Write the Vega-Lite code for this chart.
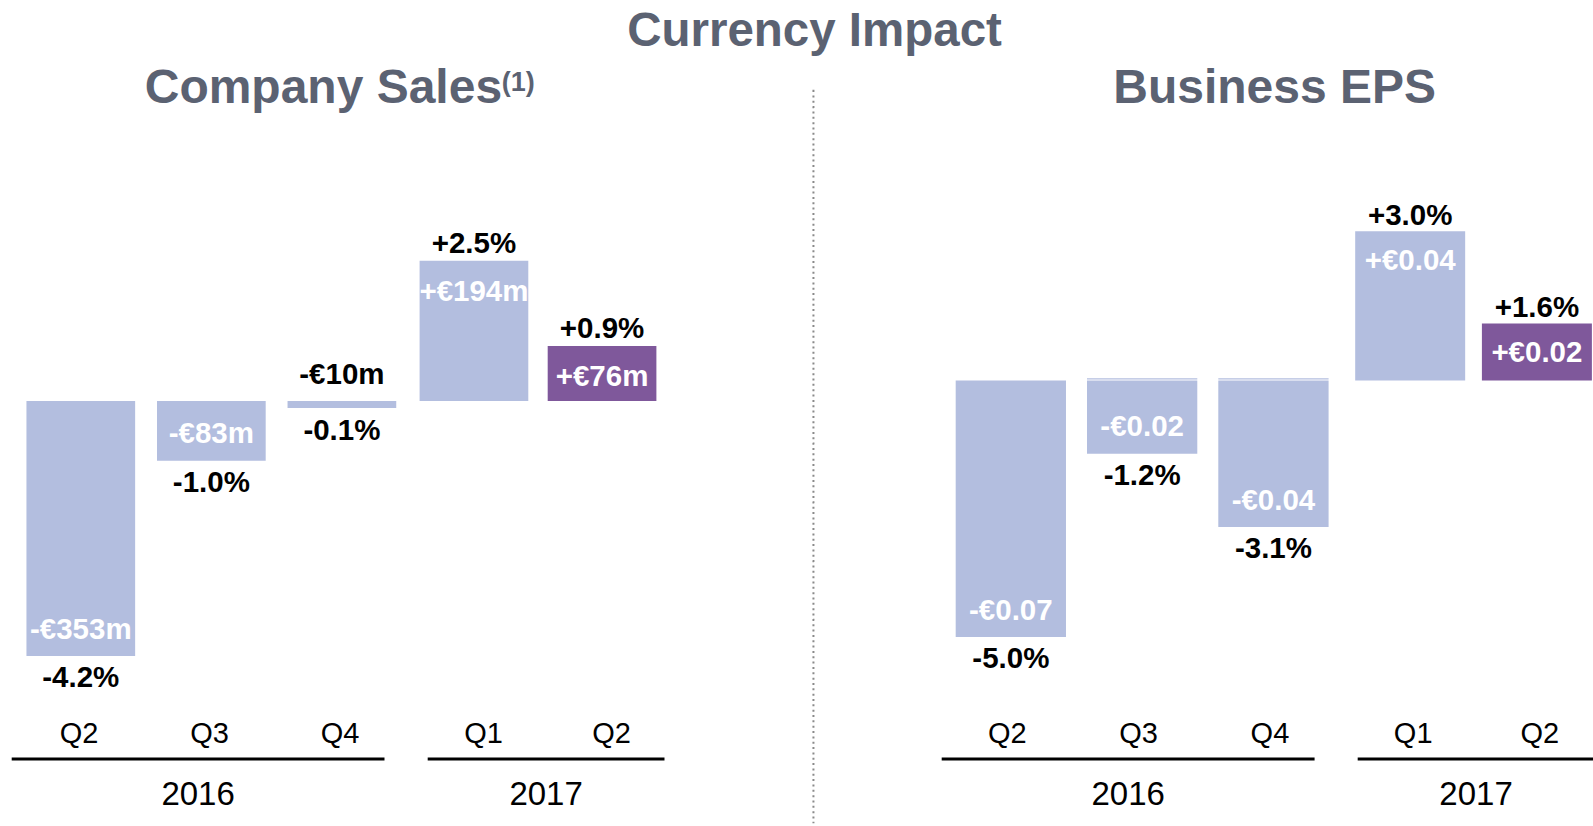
{
  "$schema": "https://vega.github.io/schema/vega-lite/v6.json",
  "padding": {"left": 11.2, "top": 7.6, "right": 0, "bottom": 0},
  "bounds": "flush",
  "spacing": 0,
  "title": {"text": "Currency Impact", "font": "Liberation Sans", "fontSize": 47.5, "fontWeight": "bold", "color": "#5b6272", "anchor": "middle", "dx": 12, "offset": 10},
  "datasets": {
    "sales": [
      {"year": "2016", "quarter": "Q2", "value": -353, "euro": "-€353m", "pct": "-4.2%"},
      {"year": "2016", "quarter": "Q3", "value": -83, "euro": "-€83m", "pct": "-1.0%"},
      {"year": "2016", "quarter": "Q4", "value": -10, "euro": "-€10m", "pct": "-0.1%"},
      {"year": "2017", "quarter": "Q1", "value": 194, "euro": "+€194m", "pct": "+2.5%"},
      {"year": "2017", "quarter": "Q2", "value": 76, "euro": "+€76m", "pct": "+0.9%"}
    ],
    "eps": [
      {"year": "2016", "quarter": "Q2", "value": -0.07, "euro": "-€0.07", "pct": "-5.0%"},
      {"year": "2016", "quarter": "Q3", "value": -0.02, "euro": "-€0.02", "pct": "-1.2%"},
      {"year": "2016", "quarter": "Q4", "value": -0.04, "euro": "-€0.04", "pct": "-3.1%"},
      {"year": "2017", "quarter": "Q1", "value": 0.0408, "euro": "+€0.04", "pct": "+3.0%"},
      {"year": "2017", "quarter": "Q2", "value": 0.0156, "euro": "+€0.02", "pct": "+1.6%"}
    ]
  },
  "hconcat": [
    {
      "width": 372.8, "height": 668,
      "title": {"text": "Company Sales", "font": "Liberation Sans", "fontSize": 48, "fontWeight": "bold", "color": "#5b6272", "anchor": "middle", "frame": "group", "dx": 125.8, "baseline": "alphabetic", "offset": -60.5},
      "data": {"name": "sales"},
      "transform": [{"filter": "datum.year === '2016'"}],
      "encoding": {
        "x": {"field": "quarter", "type": "nominal", "sort": null, "scale": {"paddingInner": 0.1674, "paddingOuter": 0.0115}, "axis": {"title": "2016", "labelOffset": 12}},
        "y": {"field": "value", "type": "quantitative", "scale": {"domain": [-495, 429.4], "nice": false, "zero": false}, "axis": null}
      },
      "layer": [
        {"mark": {"type": "bar", "xOffset": 13.75}, "encoding": {"y2": {"datum": 0}, "color": {"value": "#b3bedf"}}},
        {"transform": [{"filter": "datum.value < 0"}], "mark": {"type": "text", "xOffset": 13.75, "dy": 22.5, "baseline": "middle", "fontSize": 29.5, "fontWeight": "bold", "color": "#000000"}, "encoding": {"text": {"field": "pct"}}},
        {"transform": [{"filter": "datum.value <= -20"}], "mark": {"type": "text", "xOffset": 13.75, "dy": -26.4, "baseline": "middle", "fontSize": 29.5, "fontWeight": "bold", "color": "#ffffff"}, "encoding": {"text": {"field": "euro"}}},
        {"transform": [{"filter": "datum.value > -20 && datum.value < 0"}], "mark": {"type": "text", "xOffset": 13.75, "dy": -25.8, "baseline": "middle", "fontSize": 29.5, "fontWeight": "bold", "color": "#000000"}, "encoding": {"y": {"datum": 0}, "text": {"field": "euro"}}}
      ]
    },
    {"width": 42.7, "height": 668, "data": {"values": [{"a": 0}]}, "mark": "rule", "encoding": {}},
    {
      "width": 236.8, "height": 668,
      "title": {"text": "(1)", "font": "Liberation Sans", "fontSize": 27, "fontWeight": "bold", "color": "#5b6272", "anchor": "start", "frame": "group", "dx": 74.5, "baseline": "alphabetic", "offset": -27.8},
      "data": {"name": "sales"},
      "transform": [{"filter": "datum.year === '2017'"}],
      "encoding": {
        "x": {"field": "quarter", "type": "nominal", "sort": null, "scale": {"paddingInner": 0.1514, "paddingOuter": 0}, "axis": {"title": "2017", "labelOffset": 2}},
        "y": {"field": "value", "type": "quantitative", "scale": {"domain": [-495, 429.4], "nice": false, "zero": false}, "axis": null}
      },
      "layer": [
        {"mark": {"type": "bar", "xOffset": -7.6}, "encoding": {"y2": {"datum": 0}, "color": {"condition": {"test": "datum.quarter === 'Q2'", "value": "#7f589b"}, "value": "#b3bedf"}}},
        {"mark": {"type": "text", "xOffset": -7.6, "dy": -16.5, "baseline": "middle", "fontSize": 29.5, "fontWeight": "bold", "color": "#000000"}, "encoding": {"text": {"field": "pct"}}},
        {"mark": {"type": "text", "xOffset": -7.6, "dy": 31, "baseline": "middle", "fontSize": 29.5, "fontWeight": "bold", "color": "#ffffff"}, "encoding": {"text": {"field": "euro"}}}
      ]
    },
    {"width": 148.55, "height": 668, "data": {"values": [{"a": 0}]}, "mark": "rule", "encoding": {}},
    {"width": 0.5, "height": 732, "data": {"values": [{"a": 0}]}, "mark": "rule", "encoding": {}, "view": {"stroke": "#8a8a8a", "strokeWidth": 1.5, "strokeDash": [2, 3.3412]}},
    {"width": 126.25, "height": 668, "data": {"values": [{"a": 0}]}, "mark": "rule", "encoding": {}},
    {
      "width": 372.9, "height": 668,
      "title": {"text": "Business EPS", "font": "Liberation Sans", "fontSize": 48, "fontWeight": "bold", "color": "#5b6272", "anchor": "middle", "frame": "group", "dx": 147, "baseline": "alphabetic", "offset": -60.5},
      "data": {"name": "eps"},
      "transform": [{"filter": "datum.year === '2016'"}],
      "encoding": {
        "x": {"field": "quarter", "type": "nominal", "sort": null, "scale": {"paddingInner": 0.16, "paddingOuter": 0}, "axis": {"title": "2016", "labelOffset": 11}},
        "y": {"field": "value", "type": "quantitative", "scale": {"domain": [-0.10322, 0.07919], "nice": false, "zero": false}, "axis": null}
      },
      "layer": [
        {"mark": {"type": "bar", "xOffset": 14.5}, "encoding": {"y2": {"datum": 0}, "color": {"value": "#b3bedf"}}},
        {"transform": [{"filter": "datum.quarter !== 'Q2'"}], "mark": {"type": "tick", "orient": "horizontal", "xOffset": 14.5, "yOffset": -1.7, "thickness": 1.2, "size": 110.3, "color": "#b3bedf", "opacity": 1}, "encoding": {"y": {"datum": 0}}},
        {"mark": {"type": "text", "xOffset": 14.5, "dy": 22, "baseline": "middle", "fontSize": 29.5, "fontWeight": "bold", "color": "#000000"}, "encoding": {"text": {"field": "pct"}}},
        {"mark": {"type": "text", "xOffset": 14.5, "dy": -26.4, "baseline": "middle", "fontSize": 29.5, "fontWeight": "bold", "color": "#ffffff"}, "encoding": {"text": {"field": "euro"}}}
      ]
    },
    {"width": 42.6, "height": 668, "data": {"values": [{"a": 0}]}, "mark": "rule", "encoding": {}},
    {
      "width": 236.7, "height": 668,
      "data": {"name": "eps"},
      "transform": [{"filter": "datum.year === '2017'"}],
      "encoding": {
        "x": {"field": "quarter", "type": "nominal", "sort": null, "scale": {"paddingInner": 0.132, "paddingOuter": 0}, "axis": {"title": "2017", "labelOffset": 1}},
        "y": {"field": "value", "type": "quantitative", "scale": {"domain": [-0.10322, 0.07919], "nice": false, "zero": false}, "axis": null}
      },
      "layer": [
        {"mark": {"type": "bar", "xOffset": -2}, "encoding": {"y2": {"datum": 0}, "color": {"condition": {"test": "datum.quarter === 'Q2'", "value": "#7f589b"}, "value": "#b3bedf"}}},
        {"mark": {"type": "text", "xOffset": -2, "dy": -15, "baseline": "middle", "fontSize": 29.5, "fontWeight": "bold", "color": "#000000"}, "encoding": {"text": {"field": "pct"}}},
        {"mark": {"type": "text", "xOffset": -2, "dy": 30, "baseline": "middle", "fontSize": 29.5, "fontWeight": "bold", "color": "#ffffff"}, "encoding": {"text": {"field": "euro"}}}
      ]
    }
  ],
  "config": {
    "font": "Liberation Sans",
    "view": {"stroke": null},
    "text": {"font": "Liberation Sans"},
    "axisX": {
      "labelFont": "Liberation Sans", "labelFontSize": 29, "labelColor": "#000000", "labelPadding": -16.3, "labelBaseline": "alphabetic", "labelAngle": 0, "labelOverlap": false,
      "ticks": false, "tickSize": 0, "grid": false,
      "domain": true, "domainColor": "#000000", "domainWidth": 3,
      "titleFont": "Liberation Sans", "titleFontSize": 33, "titleFontWeight": "normal", "titleColor": "#000000", "titlePadding": 46, "titleBaseline": "alphabetic"
    }
  }
}
